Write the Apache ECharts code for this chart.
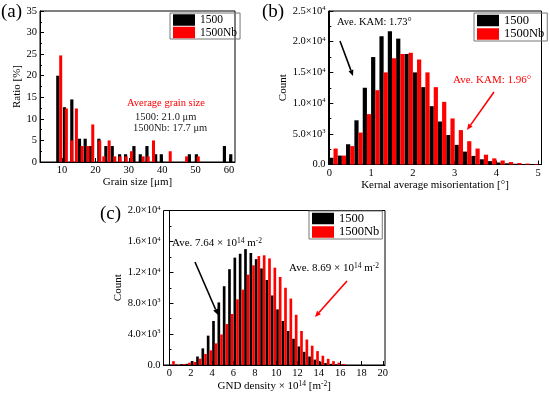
<!DOCTYPE html>
<html><head><meta charset="utf-8">
<script src="https://cdn.jsdelivr.net/npm/echarts@6/dist/echarts.min.js"></script>
<style>html,body{margin:0;padding:0;background:#fff}#c{width:550px;height:397px}</style>
</head><body><div id="c"></div>
<script>
// ---------- data ----------
const seriesNames = ['1500', '1500Nb'];
// (a) grain size histogram: bar centre [µm] and ratio [%]
const grainX1500 = [8.7, 10.7, 12.9, 15.2, 16.9, 18.5, 21.0, 23.1, 25.0, 27.2, 29.0, 31.5, 33.4, 35.4, 38.0, 39.7, 48.1, 50.2, 58.6, 60.5];
const grainY1500 = [20.0, 12.7, 14.5, 5.4, 5.4, 3.7, 5.4, 3.7, 3.7, 1.8, 1.8, 3.7, 1.8, 3.7, 1.8, 1.8, 1.8, 1.8, 3.7, 1.8];
const grainXNb   = [9.6, 11.3, 12.9, 14.3, 16.0, 17.8, 19.2, 21.3, 22.5, 24.1, 25.8, 27.4, 29.2, 30.8, 34.3, 35.8, 37.4, 42.4, 47.3, 50.8];
const grainYNb   = [24.7, 12.4, 5.0, 12.4, 3.7, 3.7, 8.7, 5.0, 1.3, 5.0, 1.3, 1.3, 1.3, 2.5, 1.3, 1.3, 5.0, 2.5, 1.3, 1.3];
const grainTicks = [10, 20, 30, 40, 50, 60];
// (b) KAM histogram: bin start [deg] (bin width 0.2)
const kamBins = [0.0, 0.2, 0.4, 0.6, 0.8, 1.0, 1.2, 1.4, 1.6, 1.8, 2.0, 2.2, 2.4, 2.6, 2.8, 3.0, 3.2, 3.4, 3.6, 3.8, 4.0, 4.2, 4.4, 4.6, 4.8];
const kam1500 = [1100, 1450, 3300, 7200, 12500, 17500, 20900, 21700, 20500, 18000, 15000, 12600, 9500, 7000, 4800, 3200, 2100, 1400, 850, 550, 330, 200, 120, 70, 40];
const kamNb   = [2600, 1450, 3000, 5200, 8200, 12100, 15000, 17300, 18000, 18200, 17100, 15000, 12600, 10200, 7500, 5600, 3800, 2600, 1600, 1000, 650, 400, 250, 150, 90];
const kamTicks = [0, 1, 2, 3, 4, 5];
// (c) GND density histogram: bin start [x1e14 m^-2] (bin width 0.5)
const gndBins = [0, 0.5, 1, 1.5, 2, 2.5, 3, 3.5, 4, 4.5, 5, 5.5, 6, 6.5, 7, 7.5, 8, 8.5, 9, 9.5, 10, 10.5, 11, 11.5, 12, 12.5, 13, 13.5, 14, 14.5, 15, 15.5, 16];
const gnd1500 = [30, 60, 100, 150, 520, 1100, 2150, 3800, 5700, 8100, 10200, 12400, 13900, 14400, 15000, 14500, 13700, 12500, 11000, 9000, 7200, 5700, 4400, 3400, 2400, 1700, 1100, 700, 450, 250, 150, 80, 40];
const gndNb   = [500, 50, 130, 300, 400, 820, 1430, 1900, 2800, 3950, 5300, 6600, 8500, 9750, 11700, 12900, 14100, 14200, 13800, 12600, 11400, 10000, 8600, 6500, 4400, 3300, 2500, 1800, 1200, 800, 500, 300, 120];
const gndTicks = [0, 2, 4, 6, 8, 10, 12, 14, 16, 18, 20];

// ---------- chart ----------
const FONT = '"Liberation Serif", "Times New Roman", serif';
const BLACK = '#000000', RED = '#ff0000';
const chart = echarts.init(document.getElementById('c'));

function sci(v) {
  if (v === 0) return '{n|0.0}';
  const e = Math.floor(Math.log10(v) + 1e-9);
  const m = v / Math.pow(10, e);
  return '{n|' + m.toFixed(1) + '×10}{s|' + e + '}';
}
const rich = {
  n: { fontFamily: FONT, fontSize: 10.5, color: '#000', lineHeight: 12 },
  s: { fontFamily: FONT, fontSize: 6.5, color: '#000', verticalAlign: 'top', lineHeight: 7 }
};
const richRed = {
  n: { fontFamily: FONT, fontSize: 11, color: RED, lineHeight: 12 },
  s: { fontFamily: FONT, fontSize: 7.5, color: RED, verticalAlign: 'top', lineHeight: 7 }
};
const richBlk = {
  n: { fontFamily: FONT, fontSize: 11, color: '#000', lineHeight: 12 },
  s: { fontFamily: FONT, fontSize: 7.5, color: '#000', verticalAlign: 'top', lineHeight: 7 }
};
const richName = {
  n: { fontFamily: FONT, fontSize: 11, color: '#000', lineHeight: 12 },
  s: { fontFamily: FONT, fontSize: 7.5, color: '#000', verticalAlign: 'top', lineHeight: 7 }
};

function xAxisBase(grid, min, max, ticks, name, gap, nameRich) {
  return {
    gridIndex: grid, type: 'value', min: min, max: max,
    axisLine: { onZero: false, lineStyle: { color: '#000', width: 1 } },
    axisTick: { show: true, inside: true, length: 4, customValues: ticks, lineStyle: { color: '#000' } },
    axisLabel: { customValues: ticks, fontFamily: FONT, fontSize: 10.5, color: '#000', margin: 3 },
    splitLine: { show: false },
    name: name, nameLocation: 'middle', nameGap: gap,
    nameTextStyle: Object.assign({ fontFamily: FONT, fontSize: 11, color: '#000' }, nameRich ? { rich: nameRich } : {})
  };
}
function yAxisBase(grid, max, interval, name, gap, fmt) {
  return {
    gridIndex: grid, type: 'value', min: 0, max: max, interval: interval,
    axisLine: { show: true, lineStyle: { color: '#000', width: 1 } },
    axisTick: { show: true, inside: true, length: 4, lineStyle: { color: '#000' } },
    minorTick: { show: true, splitNumber: 2, length: 2, lineStyle: { color: '#000' } },
    axisLabel: Object.assign({ fontFamily: FONT, fontSize: 10.5, color: '#000', margin: 3 }, fmt ? { formatter: fmt, rich: rich } : {}),
    splitLine: { show: false },
    name: name, nameLocation: 'middle', nameGap: gap, nameRotate: 90,
    nameTextStyle: { fontFamily: FONT, fontSize: 11, color: '#000' }
  };
}
function legendBox(left, top, fs) {
  return {
    data: seriesNames, left: left, top: top, orient: 'vertical', icon: 'rect',
    itemWidth: 22, itemHeight: 11.5, itemGap: 0.5,
    borderColor: '#777', borderWidth: 1, padding: [1, 3, 0.5, 3],
    textStyle: { fontFamily: FONT, fontSize: fs, color: '#000', lineHeight: 12 },
    selectedMode: false
  };
}
function arrow(x1, y1, x2, y2, color) {
  const ang = Math.atan2(y2 - y1, x2 - x1), L = 6, W = 2.6;
  const bx = x2 - L * Math.cos(ang), by = y2 - L * Math.sin(ang);
  const px = -Math.sin(ang) * W, py = Math.cos(ang) * W;
  return [
    { type: 'line', shape: { x1: x1, y1: y1, x2: bx, y2: by }, style: { stroke: color, lineWidth: 1.6 } },
    { type: 'polygon', shape: { points: [[x2, y2], [bx + px, by + py], [bx - px, by - py]] }, style: { fill: color } }
  ];
}
const txt = (x, y, text, color, fs, extra) => ({
  type: 'text', x: x, y: y,
  style: Object.assign({ text: text, fill: color, font: fs + 'px ' + FONT, textVerticalAlign: 'middle' }, extra || {})
});

const option = {
  animation: false,
  backgroundColor: '#fff',
  textStyle: { fontFamily: FONT },
  grid: [
    { left: 40, top: 11, width: 195, height: 151, show: true, borderColor: '#000', borderWidth: 1, containLabel: false },
    { left: 328.5, top: 11, width: 213, height: 153.5, show: true, borderColor: '#000', borderWidth: 1, containLabel: false },
    { left: 163.5, top: 210.5, width: 221.5, height: 154.5, show: true, borderColor: '#000', borderWidth: 1, containLabel: false }
  ],
  xAxis: [
    xAxisBase(0, 3.4, 61.8, grainTicks, 'Grain size [μm]', 15),
    xAxisBase(1, -0.02, 5.08, kamTicks, 'Kernal average misorientation [°]', 13),
    xAxisBase(2, -0.56, 20.2, gndTicks, '{n|GND density × 10}{s|14}{n| [m}{s|-2}{n|]}', 14, richName)
  ],
  yAxis: [
    yAxisBase(0, 35, 5, 'Ratio [%]', 16),
    yAxisBase(1, 25000, 5000, 'Count', 40, sci),
    yAxisBase(2, 20000, 4000, 'Count', 33, sci)
  ],
  legend: [legendBox(170, 13, 11.5), legendBox(474, 13, 12.5), legendBox(309, 211, 12.5)],
  series: [
    { type: 'bar', name: seriesNames[0], xAxisIndex: 0, yAxisIndex: 0, barWidth: 3.2, barGap: '-100%',
      itemStyle: { color: BLACK }, data: grainX1500.map((x, i) => [x, grainY1500[i]]) },
    { type: 'bar', name: seriesNames[1], xAxisIndex: 0, yAxisIndex: 0, barWidth: 3.0, barGap: '-100%',
      itemStyle: { color: RED }, data: grainXNb.map((x, i) => [x, grainYNb[i]]) },
    { type: 'bar', name: seriesNames[0], xAxisIndex: 1, yAxisIndex: 1, barWidth: 4.2, barGap: '-100%',
      itemStyle: { color: BLACK }, data: kamBins.map((b, i) => [b + 0.05, kam1500[i]]) },
    { type: 'bar', name: seriesNames[1], xAxisIndex: 1, yAxisIndex: 1, barWidth: 4.2, barGap: '-100%',
      itemStyle: { color: RED }, data: kamBins.map((b, i) => [b + 0.15, kamNb[i]]) },
    { type: 'bar', name: seriesNames[0], xAxisIndex: 2, yAxisIndex: 2, barWidth: 2.67, barGap: '-100%',
      itemStyle: { color: BLACK }, data: gndBins.map((b, i) => [b + 0.125, gnd1500[i]]) },
    { type: 'bar', name: seriesNames[1], xAxisIndex: 2, yAxisIndex: 2, barWidth: 2.67, barGap: '-100%',
      itemStyle: { color: RED }, data: gndBins.map((b, i) => [b + 0.375, gndNb[i]]) }
  ],
  graphic: [
    txt(1, 12, '(a)', '#000', 19),
    txt(262, 12, '(b)', '#000', 19),
    txt(100, 214, '(c)', '#000', 19),
    txt(127, 103, 'Average grain size', RED, 10.5),
    txt(135, 117.5, '1500: 21.0 μm', '#222', 10.5),
    txt(133, 128.5, '1500Nb: 17.7 μm', '#222', 10.5),
    txt(337, 22, 'Ave. KAM: 1.73°', '#000', 10.5),
    txt(453, 80, 'Ave. KAM: 1.96°', RED, 11),
    { type: 'text', x: 172, y: 243, style: { text: '{n|Ave. 7.64 × 10}{s|14}{n| m}{s|-2}', rich: richBlk, textVerticalAlign: 'middle' } },
    { type: 'text', x: 289, y: 268, style: { text: '{n|Ave. 8.69 × 10}{s|14}{n| m}{s|-2}', rich: richRed, textVerticalAlign: 'middle' } },
    ...arrow(340, 41, 353, 76, '#000'),
    ...arrow(494, 92, 467, 130, RED),
    ...arrow(195, 262, 218, 315, '#000'),
    ...arrow(347, 281, 315, 317, RED)
  ]
};
chart.setOption(option);
</script>
</body></html>
